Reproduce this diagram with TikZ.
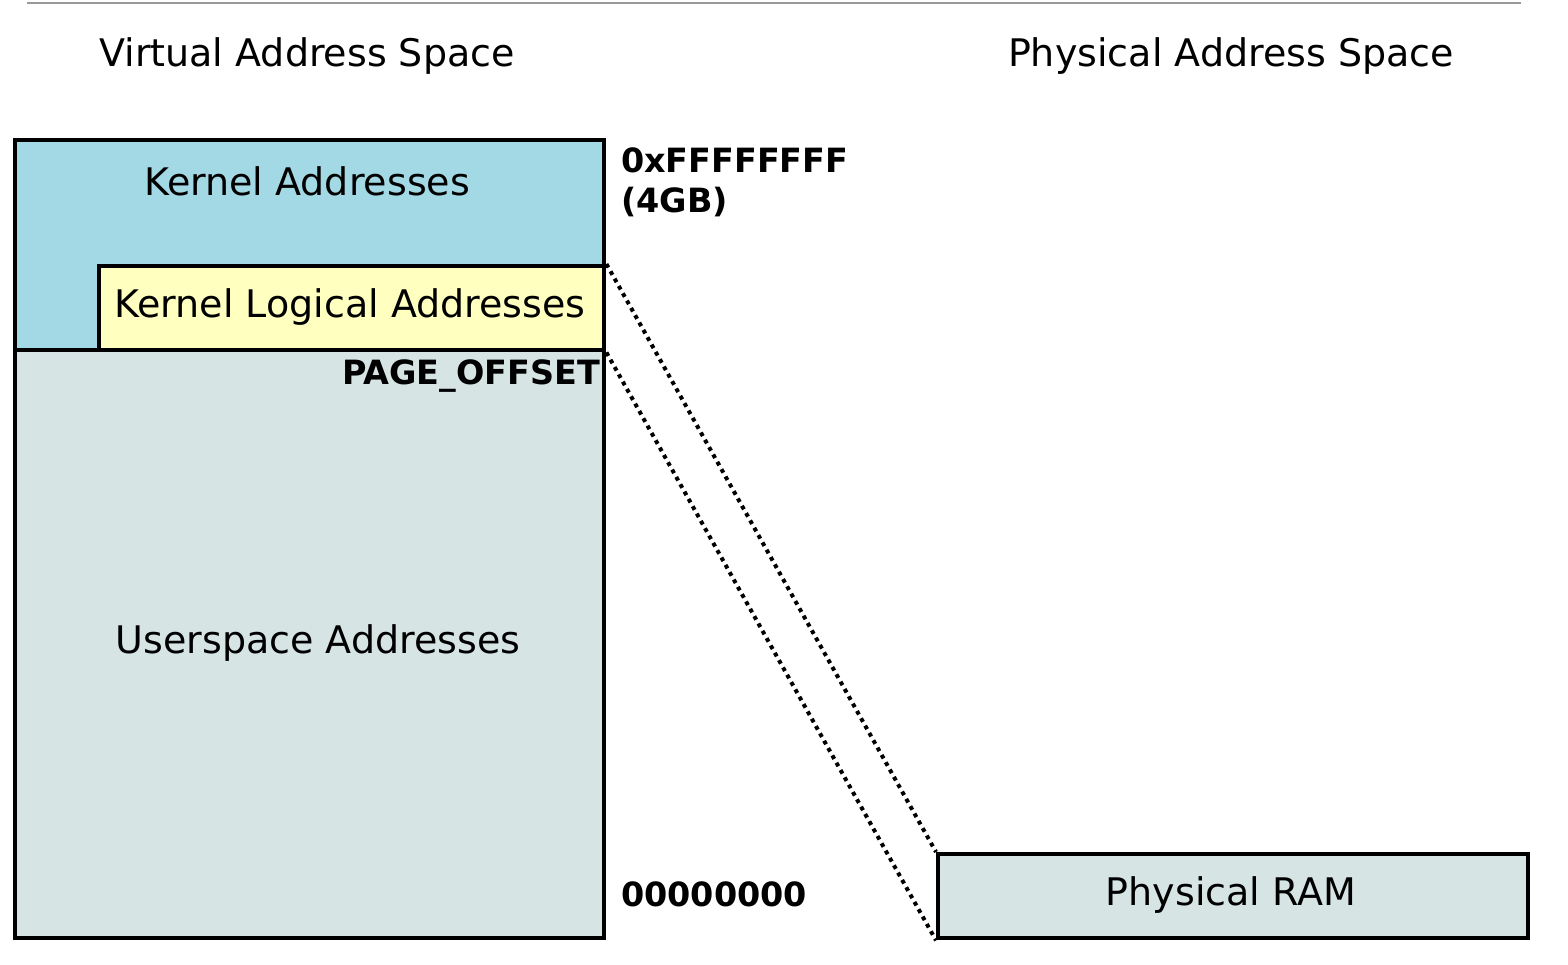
\documentclass[tikz,border=0pt]{standalone}
\usepackage{fontspec}
\setmainfont{DejaVu Sans}
\usepackage{tikz}
\usetikzlibrary{positioning}

\definecolor{kernblue}{RGB}{163,216,229}
\definecolor{logicyel}{RGB}{255,255,192}
\definecolor{usergray}{RGB}{214,228,228}

\tikzset{
  box/.style={draw=black, line width=2.2pt, anchor=north west, inner sep=0pt},
  head/.style={font=\fontsize{19}{23}\selectfont},
  lbl/.style={font=\fontsize{19}{23}\selectfont},
  addr/.style={font=\fontsize{16.7}{20}\selectfont\bfseries, align=left},
  link/.style={line width=2pt, dash pattern=on 2pt off 2.2pt}
}

\begin{document}
\begin{tikzpicture}[x=0.5pt,y=-0.5pt]
\useasboundingbox (0,0) rectangle (1568,964);
\draw[gray!80, line width=1.4pt] (27,3) -- (1521,3);
% headers
\node[head] (virt) at (307,56) {Virtual Address Space};
\node[head] (phys) at (1231,56) {Physical Address Space};
% virtual side
\node[box, fill=kernblue, minimum width=294.5pt, minimum height=105pt] (kern) at (13,138) {};
\node[box, fill=usergray, minimum width=294.5pt, minimum height=294pt] (user) at (13,348) {};
\node[box, fill=logicyel, minimum width=252.5pt, minimum height=42pt] (logic) at (97,264) {};
\node[lbl] (kerntxt) at (307,181) {Kernel Addresses};
\node[lbl] (logictxt) at (350,307) {Kernel Logical Addresses};
\node[lbl] (usertxt) at (318,643) {Userspace Addresses};
% addresses
\node[addr, anchor=west] (top) at (614,182) {0xFFFFFFFF\\(4GB)};
\node[addr, anchor=east] (poff) at (607,376) {PAGE\_OFFSET};
\node[addr, anchor=west] (zero) at (614,894) {00000000};
% physical side
\node[box, fill=usergray, minimum width=295pt, minimum height=42pt] (ram) at (936,852) {};
\node[lbl] (ramtxt) at (1231,895) {Physical RAM};
\draw[link] (logic.north east) -- (ram.north west);
\draw[link] (logic.south east) -- (ram.south west);
\end{tikzpicture}
\end{document}
